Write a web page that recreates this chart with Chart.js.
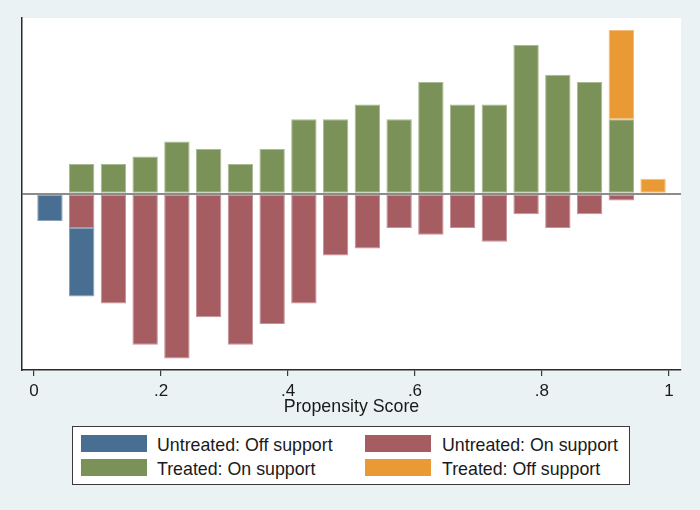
<!DOCTYPE html>
<html>
<head>
<meta charset="utf-8">
<title>Propensity score histogram</title>
<script src="https://cdn.jsdelivr.net/npm/chart.js@4.4.1/dist/chart.umd.min.js"></script>
<style>
  html, body { margin: 0; padding: 0; background: #eaf2f3; }
  #wrap { position: relative; width: 700px; height: 510px; }
  #legend {
    position: absolute; left: 72px; top: 426px; width: 558px; height: 59px;
    background: #fff; border: 1px solid #3a3a3a; box-sizing: border-box;
    font-family: "Liberation Sans", Arial, sans-serif; font-size: 17.8px; color: #1a1a1a;
  }
  #legend .sw { position: absolute; width: 66px; height: 17px; }
  #legend .tx { position: absolute; line-height: 20px; white-space: nowrap; }
</style>
</head>
<body>
<div id="wrap">
  <canvas id="mycanvas" width="700" height="510"></canvas>
  <div id="legend"></div>
</div>
<script>
// bins of width .05 on the propensity score
var binCenters = [0.025, 0.075, 0.125, 0.175, 0.225, 0.275, 0.325, 0.375, 0.425, 0.475,
                  0.525, 0.575, 0.625, 0.675, 0.725, 0.775, 0.825, 0.875, 0.925, 0.975];
var binWidth = 0.05;

// counts per bin
var untreatedOff = [4, 10, 0, 0, 0, 0, 0, 0, 0, 0, 0, 0, 0, 0, 0, 0, 0, 0, 0, 0];
var untreatedOn  = [0, 5, 16, 22, 24, 18, 22, 19, 16, 9, 8, 5, 6, 5, 7, 3, 5, 3, 1, 0];
var treatedOn    = [0, 4, 4, 5, 7, 6, 4, 6, 10, 10, 12, 10, 15, 12, 12, 20, 16, 15, 10, 0];
var treatedOff   = [0, 0, 0, 0, 0, 0, 0, 0, 0, 0, 0, 0, 0, 0, 0, 0, 0, 0, 12, 2];

var tickValues = [0, 0.2, 0.4, 0.6, 0.8, 1];
var tickLabels = ["0", ".2", ".4", ".6", ".8", "1"];

var sum = function(a){ return a.reduce(function(s, v){ return s + v; }, 0); };
var nUntreated = sum(untreatedOff) + sum(untreatedOn);
var nTreated = sum(treatedOn) + sum(treatedOff);

// densities, untreated mirrored below zero
function toPoints(counts, n, sign) {
  var pts = [];
  for (var i = 0; i < counts.length; i++) {
    pts.push({ x: binCenters[i], y: sign * counts[i] / (n * binWidth) });
  }
  return pts;
}

var series = [
  { label: "Untreated: On support",  data: toPoints(untreatedOn, nUntreated, -1), color: "#a65d62", edge: "#c59196" },
  { label: "Untreated: Off support", data: toPoints(untreatedOff, nUntreated, -1), color: "#486e91", edge: "#8aa3bb" },
  { label: "Treated: On support",    data: toPoints(treatedOn, nTreated, 1),      color: "#7a9157", edge: "#a9bb92" },
  { label: "Treated: Off support",   data: toPoints(treatedOff, nTreated, 1),     color: "#ea9a35", edge: "#f2bd7a" }
];

var chartdata = {
  datasets: series.map(function(s){
    return {
      label: s.label,
      data: s.data,
      backgroundColor: s.color,
      borderColor: s.edge,
      borderWidth: 1,
      borderSkipped: false,
      barPercentage: 0.8,
      categoryPercentage: 1.0
    };
  })
};

var plotBg = {
  id: "plotBg",
  beforeDraw: function(chart){
    var a = chart.chartArea, c = chart.ctx;
    c.save();
    c.fillStyle = "#ffffff";
    c.fillRect(a.left, a.top, a.right - a.left, a.bottom - a.top);
    c.restore();
  }
};

var font = "'Liberation Sans', Arial, sans-serif";

var ctx = document.getElementById("mycanvas");
var BarGraph = new Chart(ctx, {
  type: "bar",
  data: chartdata,
  plugins: [plotBg],
  options: {
    responsive: false,
    animation: false,
    devicePixelRatio: 1,
    layout: { padding: { left: 22, right: 19, top: 18, bottom: 92 } },
    plugins: { legend: { display: false }, tooltip: { enabled: false } },
    scales: {
      x: {
        type: "linear",
        stacked: true,
        offset: false,
        min: -0.019,
        max: 1.019,
        afterBuildTicks: function(scale){
          scale.ticks = tickValues.map(function(v){ return { value: v }; });
        },
        afterFit: function(scale){ scale.height = 48; },
        ticks: {
          padding: 5,
          color: "#1a1a1a",
          font: { family: font, size: 17 },
          maxRotation: 0,
          callback: function(v){
            var i = tickValues.indexOf(v);
            return i >= 0 ? tickLabels[i] : "";
          }
        },
        grid: { offset: false, drawOnChartArea: false, drawTicks: true, tickLength: 6, color: "#3a3a3a", lineWidth: 1.2 },
        border: { display: true, color: "#2a2a2a", width: 1.5 },
        title: {
          display: true,
          text: "Propensity Score",
          color: "#1a1a1a",
          font: { family: font, size: 17.8 },
          padding: { top: 0, bottom: 0 }
        }
      },
      y: {
        stacked: true,
        min: -2.47,
        max: 2.46,
        afterFit: function(scale){ scale.width = 0; },
        ticks: { display: false, stepSize: 1 },
        grid: {
          drawTicks: false,
          lineWidth: 2,
          color: function(c){ return c.tick && c.tick.value === 0 ? "#8c8c8c" : "rgba(0,0,0,0)"; }
        },
        border: { display: true, color: "#2a2a2a", width: 1.5 }
      }
    }
  }
});

// legend in Stata's two-column box
var legendOrder = [1, 0, 2, 3];
var lg = document.getElementById("legend");
legendOrder.forEach(function(idx, k){
  var col = k % 2, row = Math.floor(k / 2);
  var sw = document.createElement("div");
  sw.className = "sw";
  sw.style.background = series[idx].color;
  sw.style.left = (8 + col * 284) + "px";
  sw.style.top = (8 + row * 24) + "px";
  lg.appendChild(sw);
  var tx = document.createElement("div");
  tx.className = "tx";
  tx.textContent = series[idx].label;
  tx.style.left = (84 + col * 285) + "px";
  tx.style.top = (8 + row * 24) + "px";
  lg.appendChild(tx);
});
</script>
</body>
</html>
